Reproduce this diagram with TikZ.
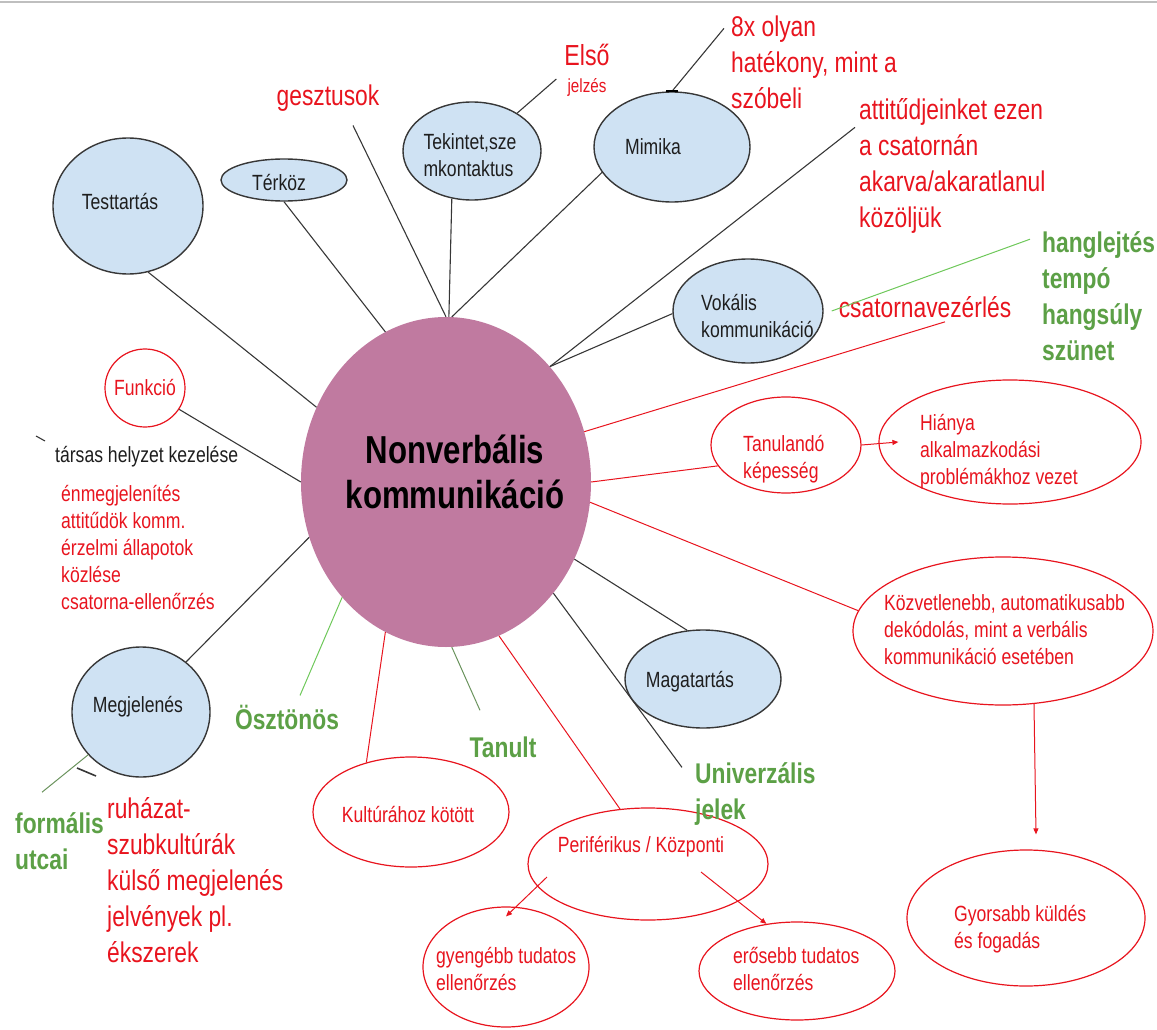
\documentclass[tikz,border=0pt]{standalone}
\usepackage{fontspec}
\setmainfont{Liberation Sans}[FakeStretch=0.8]
\usetikzlibrary{shapes.geometric}
\usetikzlibrary{arrows.meta}

\definecolor{nkpurple}{RGB}{192,122,160}
\definecolor{lblue}{RGB}{207,226,243}
\definecolor{mred}{RGB}{232,20,30}
\definecolor{mgreen}{RGB}{92,160,70}
\definecolor{lgreen}{RGB}{110,200,90}
\definecolor{dline}{RGB}{55,55,55}
\definecolor{tblack}{RGB}{30,30,30}

\tikzset{
 blob/.style={ellipse, draw=dline, line width=1.4pt, fill=lblue, inner sep=0pt},
 rblob/.style={ellipse, draw=mred, line width=1.2pt, fill=white, inner sep=0pt},
 stxt/.style={font=\fontsize{22}{27}\selectfont, text=tblack, inner sep=0pt},
 btxt/.style={font=\fontsize{28.5}{36}\selectfont, text=mred, inner sep=0pt},
 gtxt/.style={font=\fontsize{28.5}{36}\selectfont\bfseries, text=mgreen, inner sep=0pt},
 blk/.style={dline, line width=1.1pt},
 rln/.style={mred, line width=1pt},
 gln/.style={lgreen, line width=1pt},
 rarr/.style={mred, line width=1pt, -{Triangle[length=6pt,width=5pt]}}
}

\begin{document}
\begin{tikzpicture}[x=1pt, y=-1pt]
\useasboundingbox (0,0) rectangle (1157,1030);
\draw[black!25, line width=1.5pt] (0,2) -- (1157,2);

% blue nodes
\node[blob, minimum width=150pt, minimum height=136pt] (test) at (128,206) {};
\node[blob, minimum width=126pt, minimum height=42pt] (ter) at (284,180) {};
\node[blob, minimum width=138pt, minimum height=98pt] (tek) at (472,151) {};
\node[blob, minimum width=156pt, minimum height=110pt] (mim) at (672,147) {};
\node[blob, minimum width=150pt, minimum height=104pt] (vok) at (748,311) {};
\node[blob, minimum width=156pt, minimum height=98pt] (mag) at (703,679) {};
\node[blob, minimum width=138pt, minimum height=130pt] (meg) at (141,712) {};
\node[ellipse, fill=nkpurple, inner sep=0pt, minimum width=290pt, minimum height=330pt] (nk) at (446,482) {};

% red nodes
\node[rblob, minimum width=80pt, minimum height=78pt] (fun) at (145,388) {};
\node[rblob, minimum width=150pt, minimum height=96pt] (tan) at (786,445) {};
\node[rblob, minimum width=262pt, minimum height=124pt] (hia) at (1010,442) {};
\node[rblob, minimum width=300pt, minimum height=148pt] (koz) at (1003,631) {};
\node[rblob, minimum width=238pt, minimum height=136pt] (gyo) at (1026,918) {};
\node[rblob, minimum width=196pt, minimum height=110pt] (kul) at (411,812) {};
\node[rblob, minimum width=240pt, minimum height=112pt] (per) at (648,864) {};
\node[rblob, minimum width=166pt, minimum height=120pt] (gye) at (506,967) {};
\node[rblob, minimum width=196pt, minimum height=98pt] (ero) at (797,971) {};

% texts
\node[font=\fontsize{39}{45}\selectfont\bfseries, text=black, align=center] (nkt) at (455,472) {Nonverbális\\kommunikáció};
\node[stxt] (testt) at (120,202) {Testtartás};
\node[stxt] (tert) at (279,183) {Térköz};
\node[stxt, align=left] (tekt) at (470,155) {Tekintet,sze\\mkontaktus};
\node[stxt] (mimt) at (653,147) {Mimika};
\node[stxt, align=left, anchor=west] (vokt) at (701,316) {Vokális\\kommunikáció};
\node[stxt] (magt) at (690,682) {Magatartás};
\node[stxt] (megt) at (138,707) {Megjelenés};
\node[stxt, text=mred] (funt) at (145,388) {Funkció};
\node[stxt, anchor=west] (tars) at (55,457) {társas helyzet kezelése};
\node[stxt, text=mred, align=left, anchor=west] (lista) at (61,548) {énmegjelenítés\\attitűdök komm.\\érzelmi állapotok\\közlése\\csatorna-ellenőrzés};
\node[stxt, text=mred, align=left, anchor=west] (tant) at (743,459) {Tanulandó\\képesség};
\node[stxt, text=mred, align=left, anchor=west] (hiat) at (920,452) {Hiánya\\alkalmazkodási\\problémákhoz vezet};
\node[stxt, text=mred, align=left, anchor=west] (kozt) at (884,630) {Közvetlenebb, automatikusabb\\dekódolás, mint a verbális\\kommunikáció esetében};
\node[stxt, text=mred, align=left, anchor=west] (gyot) at (954,929) {Gyorsabb küldés\\és fogadás};
\node[stxt, text=mred] (kult) at (408,815) {Kultúrához kötött};
\node[stxt, text=mred] (pert) at (641,847) {Periférikus / Központi};
\node[stxt, text=mred, align=left, anchor=west] (gyet) at (436,969) {gyengébb tudatos\\ellenőrzés};
\node[stxt, text=mred, align=left, anchor=west] (erot) at (733,969) {erősebb tudatos\\ellenőrzés};

\node[btxt] (gesz) at (328,98) {gesztusok};
\node[font=\fontsize{29}{34}\selectfont, text=mred, inner sep=0pt] (elso) at (587,55) {Első};
\node[font=\fontsize{19}{22}\selectfont, text=mred, inner sep=0pt] (jel) at (587,87) {jelzés};
\node[btxt, align=left, anchor=west] (eight) at (731,62) {8x olyan\\hatékony, mint a\\szóbeli};
\node[btxt, align=left, anchor=west] (att) at (859,166) {attitűdjeinket ezen\\a csatornán\\akarva/akaratlanul\\közöljük};
\node[btxt] (csat) at (925,307) {csatornavezérlés};
\node[btxt, align=left, anchor=west] (ruh) at (107,880) {ruházat-\\szubkultúrák\\külső megjelenés\\jelvények pl.\\ékszerek};
\node[gtxt, align=left, anchor=west] (hang) at (1042,296) {hanglejtés\\tempó\\hangsúly\\szünet};
\node[gtxt] (oszt) at (287,717) {Ösztönös};
\node[gtxt] (tanult) at (503,747) {Tanult};
\node[gtxt, align=left, anchor=west] (univ) at (695,794) {Univerzális\\jelek};
\node[gtxt, align=left, anchor=west] (form) at (15,841) {formális\\utcai};

% black connectors
\draw[blk] (tek.247) -- (nk.89);
\draw[blk] ([xshift=25pt,yshift=-14pt]gesz.south) -- (nk.90);
\draw[blk] (mim.200) -- (nk.88);
\draw[blk] (ter.south) -- (nk.112);
\draw[blk] (test.287) -- (nk.150);
\draw[blk] (fun.328) -- (nk.180);
\draw[blk] (meg.48) -- (nk.202);
\draw[blk] (vok.182) -- (nk.48);
\draw[blk] ([xshift=-4pt,yshift=-29pt]att.north west) -- (nk.48);
\draw[blk] (tek.40) -- ([xshift=-11pt,yshift=8pt]jel.west);
\draw[blk] (mim.north) -- ([xshift=-7pt,yshift=-13pt]eight.north west);
\draw[line width=2.2pt] ([xshift=-6pt]mim.north) -- ([xshift=6pt]mim.north);
\draw[blk] (nk.329) -- (mag.108);
\draw[blk] (nk.314) -- ([xshift=-13pt,yshift=-5pt]univ.north west);
\draw[blk] (36,436) -- (45,441);
\draw[blk, line width=1.6pt] (77,768) -- (96,776);

% green connectors
\draw[gln] ([xshift=8pt]vok.east) -- ([xshift=-12pt,yshift=-8pt]hang.north west);
\draw[gln] (nk.228) -- ([xshift=13pt,yshift=9pt]oszt.north);
\draw[gln, mgreen!60!gray] (nk.272) -- ([xshift=-23pt,yshift=26pt]tanult.north);
\draw[gln, mgreen!60!gray] ([xshift=27pt,yshift=20pt]form.north west) -- (meg.219);

% red connectors
\draw[rln] (nk.20) -- ([xshift=20pt,yshift=-4pt]csat.south);
\draw[rln] (nk.0) -- (tan.197);
\draw[rln] (nk.352) -- (koz.172);
\draw[rln] (nk.248) -- (kul.132);
\draw[rln] (nk.289) -- (per.117);
\draw[rarr] (tan.east) -- ([xshift=20pt]hia.west);
\draw[rarr] (koz.293) -- ([xshift=10pt,yshift=15pt]gyo.north);
\draw[rarr] ([shift={(-101pt,-13pt)}]per.center) -- ([yshift=-10pt]gye.north);
\draw[rarr] ([shift={(53pt,-8pt)}]per.center) -- (ero.123);

\end{tikzpicture}
\end{document}
